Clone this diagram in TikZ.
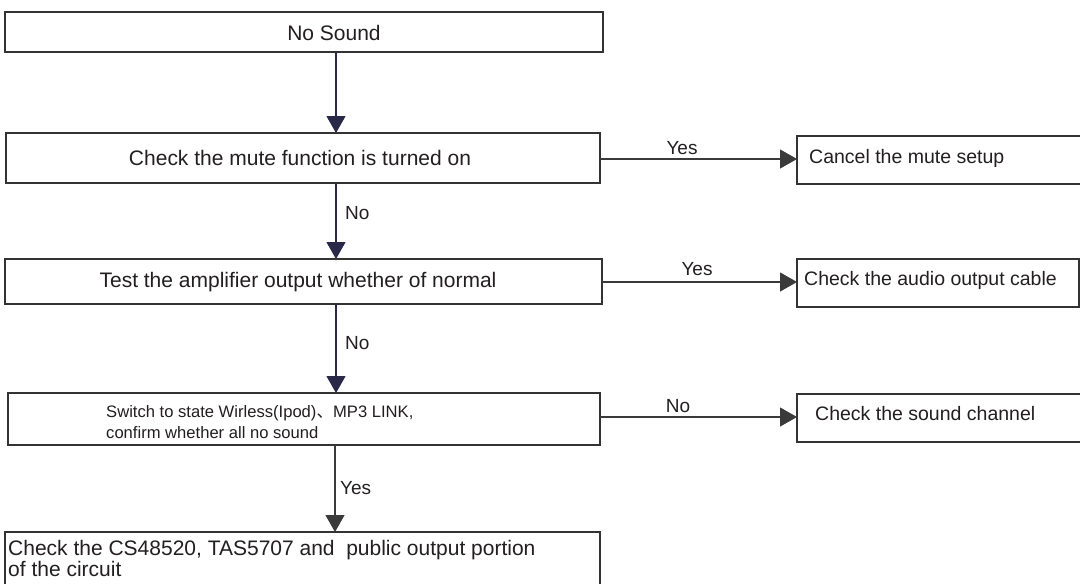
\documentclass[tikz,border=0pt]{standalone}
\usepackage{fontspec}
\setmainfont{Liberation Sans}
\newfontfamily\cjkfont{Noto Sans CJK SC}
\usetikzlibrary{arrows.meta}
\definecolor{boxline}{HTML}{333333}
\definecolor{vline}{HTML}{2A2848}
\definecolor{hline}{HTML}{3A3A3A}
\definecolor{ink}{HTML}{231F20}
\begin{document}
\begin{tikzpicture}[x=1pt,y=-1pt,
  box/.style={draw=boxline, line width=1.4pt, anchor=north west,
              inner sep=0pt, outer sep=0pt, fill=white},
  txt/.style={text=ink, inner sep=0pt, font=\fontsize{21}{24}\selectfont},
  rtxt/.style={text=ink, inner sep=0pt, anchor=mid west,
               font=\fontsize{19.5}{23}\selectfont},
  lbl/.style={text=ink, inner sep=0pt, font=\fontsize{19}{22}\selectfont},
  tip/.style={-{Triangle[length=17pt,width=19pt]}},
  vconn/.style={draw=vline, line width=1.1pt, tip},
  hconn/.style={draw=hline, line width=1.1pt, tip}]

% page frame
\useasboundingbox (0,0) rectangle (1080,584);
\fill[white] (0,0) rectangle (1080,584);

% left column of checks
\node[box, line width=2pt, minimum width=598pt, minimum height=40pt] (b1) at (5,12) {};
\node[box, minimum width=594pt, minimum height=50pt] (b2) at (6,133) {};
\node[box, minimum width=597pt, minimum height=45pt] (b3) at (5,259) {};
\node[box, minimum width=592pt, minimum height=52pt] (b4) at (8,393) {};
\node[box, minimum width=595pt, minimum height=54pt] (b5) at (5,532) {};

% right column of remedies
\node[box, minimum width=286pt, minimum height=48pt] (r1) at (797,136) {};
\node[box, minimum width=282pt, minimum height=48pt] (r2) at (797,259) {};
\node[box, minimum width=286pt, minimum height=48pt] (r3) at (797,394) {};

% texts in the boxes
\node[txt] (t1) at (334,33) {No Sound};
\node[txt] (t2) at (300,158) {Check the mute function is turned on};
\node[txt] (t3) at (298,282) {Test the amplifier output whether of normal};
\node[txt, anchor=west, align=left, font=\fontsize{16.6}{21}\selectfont] (t4) at (106,422.5)
  {Switch to state Wirless(Ipod){\cjkfont 、}MP3 LINK,\\confirm whether all no sound};
\node[txt, anchor=west, align=left, font=\fontsize{21}{18}\selectfont] (t5) at (8,558.5)
  {Check the CS48520, TAS5707 and\ \ public output portion\\of the circuit};
\node[rtxt] (s1) at (809,161) {Cancel the mute setup};
\node[rtxt] (s2) at (804,283) {Check the audio output cable};
\node[rtxt] (s3) at (815,418) {Check the sound channel};

% connector guides
\coordinate (cx) at (336,0);
\coordinate (cx2) at (335,0);
\coordinate (cy1) at (0,159);
\coordinate (cy2) at (0,282);
\coordinate (cy3) at (0,417);

% downward flow
\draw[vconn] (b1.south -| cx) -- (b2.north -| cx);
\draw[vconn] (b2.south -| cx) -- (b3.north -| cx);
\draw[vconn] (b3.south -| cx) -- (b4.north -| cx);
\draw[vconn, draw=hline] (b4.south -| cx2) -- (b5.north -| cx2);

% branches to the right
\draw[hconn] (b2.east |- cy1) -- (r1.west |- cy1);
\draw[hconn] (b3.east |- cy2) -- (r2.west |- cy2);
\draw[hconn] (b4.east |- cy3) -- (r3.west |- cy3);

% branch labels
\node[lbl] (l1) at (682,148) {Yes};
\node[lbl] (l2) at (697,269) {Yes};
\node[lbl] (l3) at (678,406) {No};
\node[lbl, anchor=west] (l4) at (345,213) {No};
\node[lbl, anchor=west] (l5) at (345,343) {No};
\node[lbl, anchor=west] (l6) at (340,488) {Yes};
\end{tikzpicture}
\end{document}
